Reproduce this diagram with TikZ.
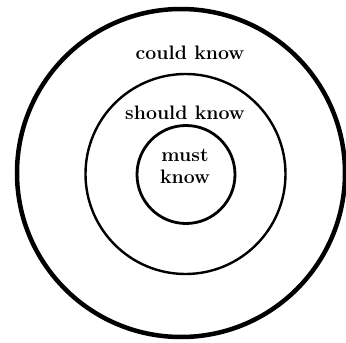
\documentclass[tikz,border=0pt]{standalone}
\begin{document}
\begin{tikzpicture}[x=1pt,y=1pt,
  ring/.style={circle,draw=black,inner sep=0pt,outer sep=0pt},
  lbl/.style={font=\fontsize{19.5}{22}\selectfont\bfseries,inner sep=0pt,align=center}]
\useasboundingbox (0,0) rectangle (346,-343);
\node[ring,line width=4.5pt,minimum size=328pt] (outer) at (181,-173) {};
\node[ring,line width=2.4pt,minimum size=200pt] (middle) at (185.5,-174) {};
\node[ring,line width=2.8pt,minimum size=98pt] (inner) at (186,-174.5) {};
\node[lbl] (could) at (190,-53) {could know};
\node[lbl] (should) at (185,-113) {should know};
\node[lbl] (must) at (185,-166) {must\\know};
\end{tikzpicture}
\end{document}
